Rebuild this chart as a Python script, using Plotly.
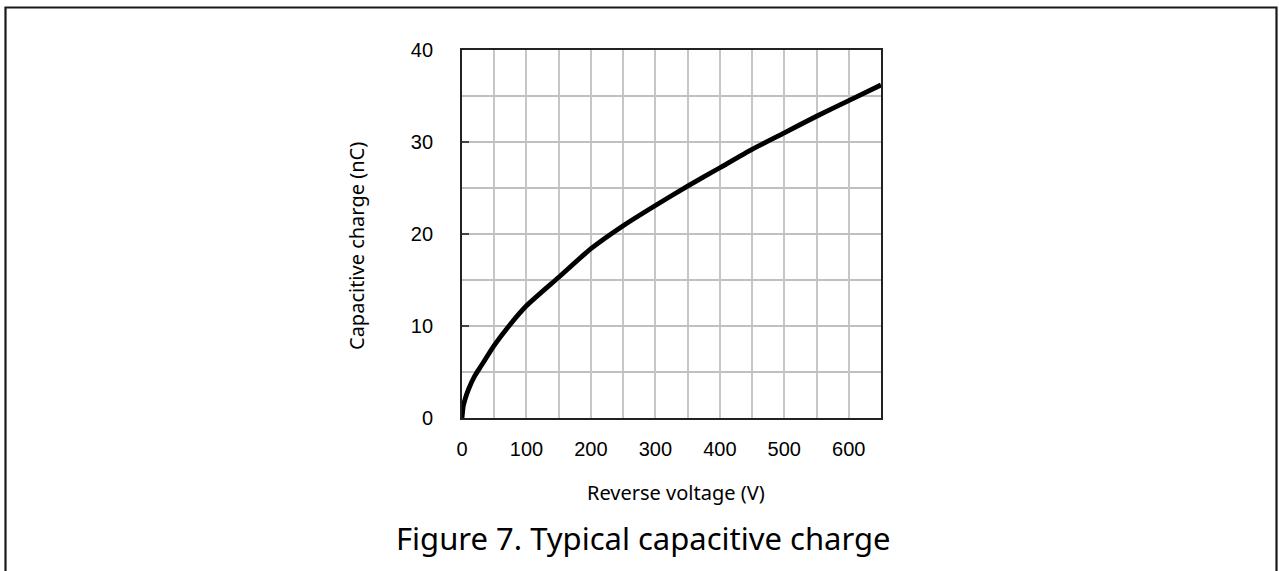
import plotly.graph_objects as go

# Reverse voltage (V) and capacitive charge (nC)
voltage = [0, 2, 5, 10, 20, 30, 50, 75, 100, 150, 200, 250, 300, 350, 400, 450, 500, 550, 600, 650]
charge = [0, 1.3, 2.1, 3.1, 4.6, 5.7, 7.9, 10.2, 12.2, 15.3, 18.4, 20.9, 23.1, 25.2, 27.2, 29.2, 31.0, 32.8, 34.5, 36.2]

x_ticks = [0, 100, 200, 300, 400, 500, 600]
y_ticks = [0, 10, 20, 30, 40]

W, H = 1279, 571
L, R, T, B = 462, 398, 50, 153
pw, ph = W - L - R, H - T - B


def px(x):
    return (x - L) / pw


def py(y):
    return (H - B - y) / ph


fig = go.Figure()
fig.add_trace(go.Scatter(
    x=voltage, y=charge, mode="lines",
    line=dict(color="black", width=4.8, shape="spline", smoothing=0.6),
    showlegend=False, hoverinfo="skip",
))

tick_font = dict(family="Liberation Sans, Arial, sans-serif", size=20, color="black")
label_font = dict(family="Noto Sans, Open Sans, sans-serif", color="black")

fig.update_layout(
    width=W, height=H,
    margin=dict(l=L, r=R, t=T, b=B),
    paper_bgcolor="white", plot_bgcolor="white",
    xaxis=dict(
        range=[0, 650], tickvals=x_ticks, ticktext=[str(v) for v in x_ticks],
        showgrid=True, gridcolor="#c6c6c6", gridwidth=1.5,
        minor=dict(dtick=50, tick0=0, showgrid=True, gridcolor="#c6c6c6", gridwidth=1.5),
        showline=True, linecolor="#222", linewidth=1.8, mirror=True,
        ticks="", tickfont=tick_font, ticklabelstandoff=12,
        zeroline=False, fixedrange=True,
    ),
    yaxis=dict(
        range=[0, 40], tickvals=y_ticks, ticktext=[str(v) for v in y_ticks],
        showgrid=True, gridcolor="#c0c0c0", gridwidth=1.5,
        minor=dict(dtick=5, tick0=0, showgrid=True, gridcolor="#c0c0c0", gridwidth=1.5),
        showline=True, linecolor="#222", linewidth=1.8, mirror=True,
        ticks="inside", ticklen=7, tickwidth=1.5, tickcolor="#444",
        tickfont=tick_font, ticklabelstandoff=23,
        zeroline=False, fixedrange=True,
    ),
    annotations=[
        dict(text="Reverse voltage (V)", x=px(676), y=py(492), xref="paper", yref="paper",
             xanchor="center", yanchor="middle", showarrow=False,
             font=dict(size=20, **label_font)),
        dict(text="Capacitive charge (nC)", x=px(357), y=py(246), xref="paper", yref="paper",
             xanchor="center", yanchor="middle", showarrow=False, textangle=-90,
             font=dict(size=20, **label_font)),
        dict(text="Figure 7. Typical capacitive charge", x=px(643), y=py(538),
             xref="paper", yref="paper", xanchor="center", yanchor="middle",
             showarrow=False, font=dict(size=31, **label_font)),
    ],
    shapes=[
        dict(type="rect", xref="paper", yref="paper",
             x0=px(5.5), x1=px(1276.5), y0=py(580), y1=py(7.5),
             line=dict(color="#1a1a1a", width=2.2), fillcolor="rgba(0,0,0,0)", layer="above"),
    ],
)

fig.write_html("out.html")
